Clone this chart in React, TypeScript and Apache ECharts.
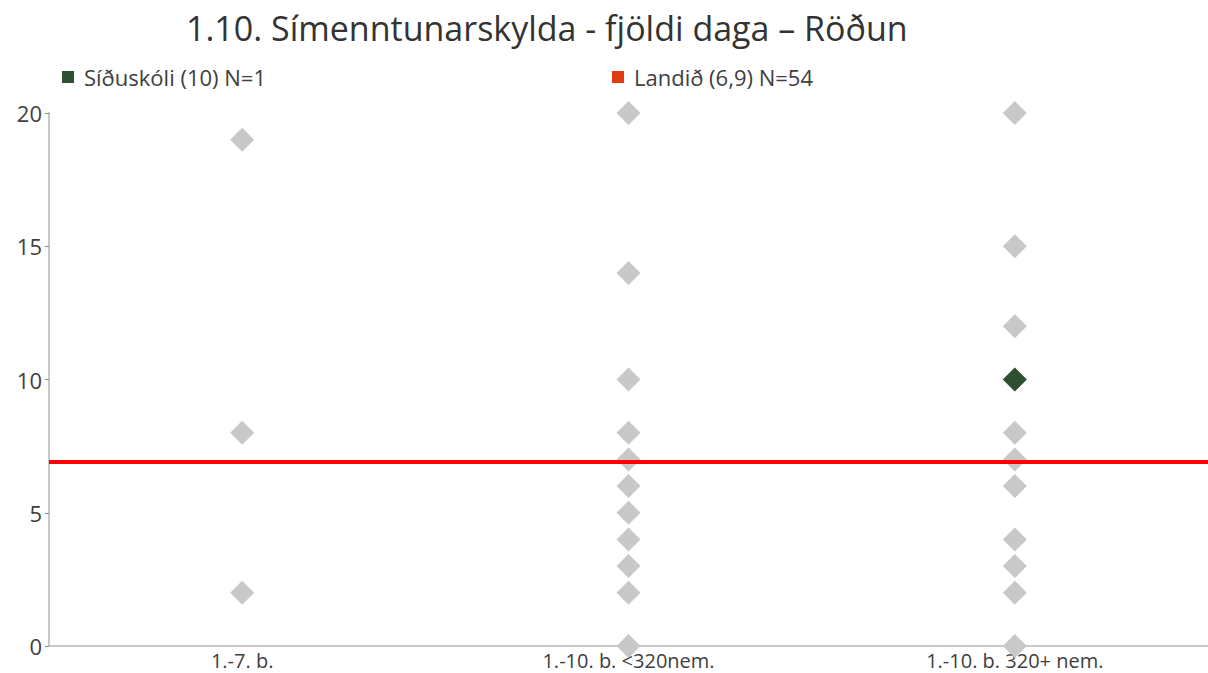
import React, { useEffect, useRef } from "react";
import * as echarts from "echarts";

const categories = ["1.-7. b.", "1.-10. b. <320nem.", "1.-10. b. 320+ nem."];
const catSmall = [19, 8, 2];
const catMid = [20, 14, 10, 8, 7, 6, 5, 4, 3, 2, 0];
const catLarge = [20, 15, 12, 10, 8, 7, 6, 4, 3, 2, 0];
const schoolName = "Síðuskóli (10) N=1";
const schoolPoint = { category: 2, value: 10 };
const nationName = "Landið (6,9) N=54";
const nationValue = 6.9;
const yTicks = { min: 0, max: 20, interval: 5 };
const title = "1.10. Símenntunarskylda - fjöldi daga – Röðun";

const FONT = "Open Sans";

export default function App() {
  const ref = useRef<HTMLDivElement>(null);
  useEffect(() => {
    document.body.style.margin = "0";
    const chart = echarts.init(ref.current!, null, { renderer: "svg" });
    const grayData: [number, number][] = [];
    [catSmall, catMid, catLarge].forEach((arr, ci) =>
      arr.forEach((v) => grayData.push([ci, v]))
    );
    chart.setOption({
      animation: false,
      title: {
        text: title,
        left: 181,
        top: 6,
        textStyle: { fontFamily: FONT, fontSize: 34, fontWeight: "normal", color: "#333" },
      },
      legend: [
        {
          data: [schoolName],
          left: 57,
          top: 61,
          icon: "rect",
          itemWidth: 12,
          itemHeight: 12,
          itemGap: 8,
          textStyle: { fontFamily: FONT, fontSize: 22, color: "#404040", padding: [0, 0, 0, 5] },
          selectedMode: false,
        },
        {
          data: [nationName],
          left: 607,
          top: 61,
          icon: "rect",
          itemWidth: 12,
          itemHeight: 12,
          textStyle: { fontFamily: FONT, fontSize: 22, color: "#404040", padding: [0, 0, 0, 5] },
          selectedMode: false,
        },
      ],
      grid: { left: 49, right: 0, top: 113, bottom: 27, containLabel: false },
      xAxis: {
        type: "category",
        data: categories,
        boundaryGap: true,
        axisLine: { show: true, lineStyle: { color: "#c8c8c8", width: 2 } },
        axisTick: { show: false },
        axisLabel: { fontFamily: FONT, fontSize: 20, lineHeight: 22, color: "#404040", margin: 3 },
        splitLine: { show: false },
      },
      yAxis: {
        type: "value",
        min: yTicks.min,
        max: yTicks.max,
        interval: yTicks.interval,
        axisLine: { show: true, lineStyle: { color: "#c8c8c8", width: 2 } },
        axisTick: { show: true, length: 4, lineStyle: { color: "#888", width: 1 } },
        axisLabel: { fontFamily: FONT, fontSize: 22, color: "#404040", margin: 7 },
        splitLine: { show: false },
      },
      series: [
        {
          type: "scatter",
          name: "others",
          data: grayData,
          symbol: "diamond",
          symbolSize: 24,
          itemStyle: { color: "#c8c8c8", opacity: 1 },
          clip: false,
          z: 2,
        },
        {
          type: "line",
          name: nationName,
          data: [],
          itemStyle: { color: "#e03c14" },
          lineStyle: { color: "#e03c14" },
          markLine: {
            silent: true,
            symbol: "none",
            label: { show: false },
            lineStyle: { color: "#ff0000", width: 4, type: "solid" },
            data: [{ yAxis: nationValue }],
          },
          z: 3,
        },
        {
          type: "scatter",
          name: schoolName,
          data: [[schoolPoint.category, schoolPoint.value]],
          symbol: "diamond",
          symbolSize: 24,
          itemStyle: { color: "#2d5030", opacity: 1 },
          clip: false,
          z: 4,
        },
      ],
    });
    return () => chart.dispose();
  }, []);
  return <div ref={ref} style={{ width: 1208, height: 673 }} />;
}
